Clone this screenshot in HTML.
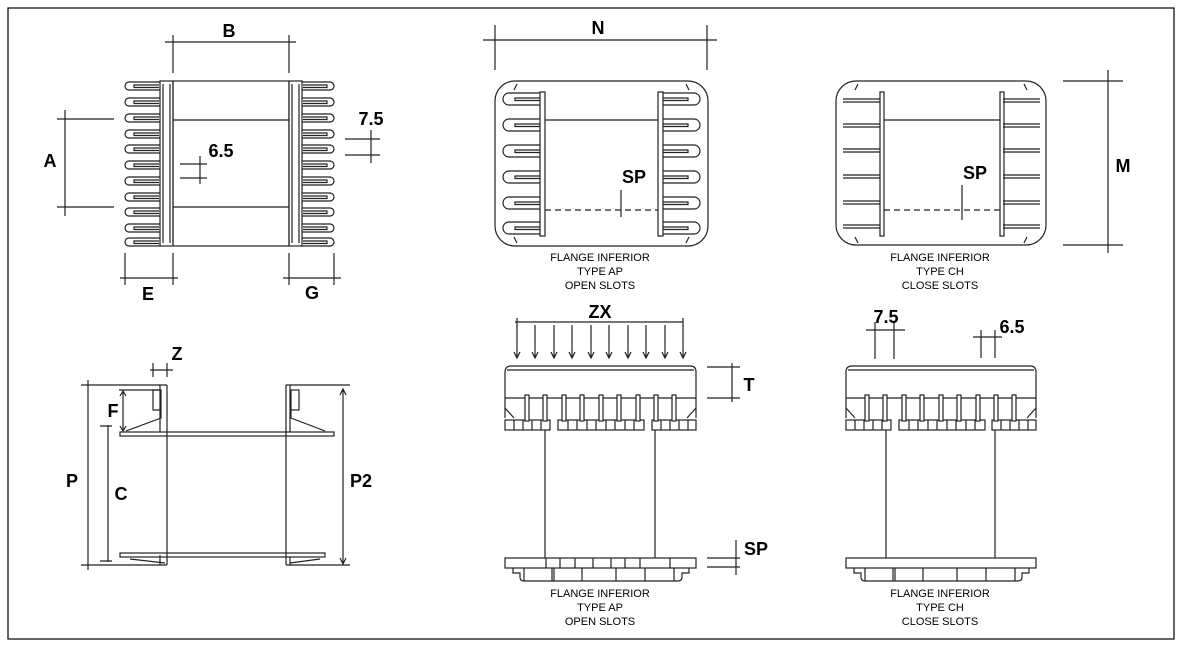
<!DOCTYPE html>
<html><head><meta charset="utf-8"><style>
html,body{margin:0;padding:0;background:#fff;}
svg{display:block;}
text{font-family:"Liberation Sans",sans-serif;fill:#000;}
.l{font-size:18px;font-weight:bold;}
.s{font-size:11px;}
g,path,rect{stroke-width:1.2;}
</style></head><body>
<svg width="1183" height="652" viewBox="0 0 1183 652" xmlns="http://www.w3.org/2000/svg">
<defs>
<g id="finL" fill="none" stroke="#222"><path d="M160,0 H129 a4,4 0 0 0 0,8 H160"/><path d="M159,3 H134 V5.5 H159"/></g>
<g id="finR" fill="none" stroke="#222"><path d="M302,0 H330 a4,4 0 0 1 0,8 H302"/><path d="M303,3 H327 V5.5 H303"/></g>
<g id="sL" fill="none" stroke="#222"><path d="M540,0 H509 a6,6 0 0 0 0,12 H540"/><path d="M540,5 H515 V7.5 H540"/></g>
<g id="sR" fill="none" stroke="#222"><path d="M663,0 H694 a6,6 0 0 1 0,12 H663"/><path d="M663,5 H688 V7.5 H663"/></g>
<g id="cL" fill="none" stroke="#222"><path d="M843,0 H880 M843,3 H880"/></g>
<g id="cR" fill="none" stroke="#222"><path d="M1003,0 H1040 M1003,3 H1040"/></g>
<rect id="pin" x="-2" y="395" width="4" height="26" fill="#fff" stroke="#222"/>
<path id="arr" d="M0,325 V357 M-3,352 L0,358 L3,352" fill="none" stroke="#222"/>
</defs>
<rect x="8" y="8" width="1166" height="631" fill="none" stroke="#000" stroke-width="2"/>

<!-- TOP LEFT -->
<g stroke="#222" fill="none">
<path d="M165,42 H296 M173,35 V73 M289,35 V73"/>
<rect x="173" y="81" width="116" height="165"/>
<path d="M173,120 H289 M173,207 H289"/>
<rect x="160" y="81" width="13" height="165"/><path d="M163,84 V243 M170,84 V243"/>
<rect x="289" y="81" width="13" height="165"/><path d="M292,84 V243 M299,84 V243"/>
<path d="M57,119 H114 M57,207 H114 M65,110 V216"/>
<path d="M180,164 H207 M180,178 H207 M200,156 V184"/>
<path d="M345,139 H380 M345,155 H380 M371,130 V163"/>
<path d="M125,253 V285 M173,253 V285 M120,278 H178"/>
<path d="M289,253 V285 M334,253 V285 M283,278 H341"/>
</g>
<use href="#finL" y="82"/><use href="#finL" y="98"/><use href="#finL" y="114"/><use href="#finL" y="130"/><use href="#finL" y="145"/><use href="#finL" y="161"/><use href="#finL" y="177"/><use href="#finL" y="193"/><use href="#finL" y="208"/><use href="#finL" y="224"/><use href="#finL" y="238"/>
<use href="#finR" y="82"/><use href="#finR" y="98"/><use href="#finR" y="114"/><use href="#finR" y="130"/><use href="#finR" y="145"/><use href="#finR" y="161"/><use href="#finR" y="177"/><use href="#finR" y="193"/><use href="#finR" y="208"/><use href="#finR" y="224"/><use href="#finR" y="238"/>
<text class="l" x="229" y="37" text-anchor="middle">B</text>
<text class="l" x="50" y="167" text-anchor="middle">A</text>
<text class="l" x="221" y="157" text-anchor="middle">6.5</text>
<text class="l" x="371" y="125" text-anchor="middle">7.5</text>
<text class="l" x="148" y="300" text-anchor="middle">E</text>
<text class="l" x="312" y="299" text-anchor="middle">G</text>

<!-- BOTTOM LEFT -->
<g stroke="#222" fill="none">
<path d="M150,370 H173 M153,363 V377 M167,363 V377"/>
<path d="M81,385 H167 M286,385 H350 M81,565 H167 M286,565 H350"/>
<path d="M88,380 V570"/>
<path d="M160,385 V432 M167,385 V565 M160,555 V565 M286,385 V565 M290,385 V432 M290,557 V565"/>
<rect x="120" y="432" width="214" height="4"/>
<rect x="120" y="553" width="205" height="4"/>
<rect x="153" y="390" width="8" height="20"/><rect x="291" y="390" width="8" height="20"/>
<path d="M161,410 V418 L126,431 M291,410 V418 L325,431"/>
<path d="M130,559 L165,563 M320,559 L290,563"/>
<path d="M108,425 V562 M100,426 H112 M100,561 H112"/>
<path d="M123,392 V430 M120,396 L123,391 L126,396 M120,426 L123,431 L126,426 M119,390 H160"/>
<path d="M343,390 V563 M340,395 L343,389 L346,395 M340,558 L343,564 L346,558"/>
</g>
<text class="l" x="177" y="360" text-anchor="middle">Z</text>
<text class="l" x="113" y="417" text-anchor="middle">F</text>
<text class="l" x="72" y="487" text-anchor="middle">P</text>
<text class="l" x="121" y="500" text-anchor="middle">C</text>
<text class="l" x="361" y="487" text-anchor="middle">P2</text>

<!-- TOP MIDDLE -->
<g stroke="#222" fill="none">
<path d="M483,40 H717 M495,25 V70 M707,25 V70"/>
<rect x="495" y="81" width="213" height="165" rx="20"/>
<rect x="540" y="92" width="5" height="144"/><rect x="658" y="92" width="5" height="144"/>
<path d="M545,120 H658"/><path d="M545,210 H658" stroke-dasharray="6,4"/>
<path d="M621,190 V217"/>
<path d="M517,84 L514,90 M686,84 L689,90 M517,243 L514,237 M686,243 L689,237"/>
</g>
<use href="#sL" y="93"/><use href="#sL" y="119"/><use href="#sL" y="145"/><use href="#sL" y="171"/><use href="#sL" y="197"/><use href="#sL" y="222"/>
<use href="#sR" y="93"/><use href="#sR" y="119"/><use href="#sR" y="145"/><use href="#sR" y="171"/><use href="#sR" y="197"/><use href="#sR" y="222"/>
<text class="l" x="598" y="34" text-anchor="middle">N</text>
<text class="l" x="634" y="183" text-anchor="middle">SP</text>
<text class="s" x="600" y="261" text-anchor="middle">FLANGE INFERIOR</text>
<text class="s" x="600" y="275" text-anchor="middle">TYPE AP</text>
<text class="s" x="600" y="289" text-anchor="middle">OPEN SLOTS</text>

<!-- TOP RIGHT -->
<g stroke="#222" fill="none">
<rect x="836" y="81" width="210" height="164" rx="20"/>
<rect x="880" y="92" width="4" height="144"/><rect x="1000" y="92" width="4" height="144"/>
<path d="M884,120 H1000"/><path d="M884,210 H1000" stroke-dasharray="6,4"/>
<path d="M962,185 V220"/>
<path d="M858,84 L855,90 M1024,84 L1027,90 M858,243 L855,237 M1024,243 L1027,237"/>
<path d="M1063,81 H1123 M1063,245 H1123 M1108,70 V253"/>
</g>
<use href="#cL" y="99"/><use href="#cL" y="124"/><use href="#cL" y="149"/><use href="#cL" y="175"/><use href="#cL" y="201"/><use href="#cL" y="225"/>
<use href="#cR" y="99"/><use href="#cR" y="124"/><use href="#cR" y="149"/><use href="#cR" y="175"/><use href="#cR" y="201"/><use href="#cR" y="225"/>
<text class="l" x="975" y="179" text-anchor="middle">SP</text>
<text class="l" x="1123" y="172" text-anchor="middle">M</text>
<text class="s" x="940" y="261" text-anchor="middle">FLANGE INFERIOR</text>
<text class="s" x="940" y="275" text-anchor="middle">TYPE CH</text>
<text class="s" x="940" y="289" text-anchor="middle">CLOSE SLOTS</text>

<!-- BOTTOM MIDDLE -->
<g stroke="#222" fill="none">
<path d="M515,322 H683 M517,318 V326 M683,318 V326"/>
<path d="M505,418 V372 Q505,366 511,366 H690 Q696,366 696,372 V418 M505,408 L514,418 M696,408 L687,418"/>
<path d="M507,370 H694 M505,398 H696"/>
<path d="M707,367 H740 M707,398 H740 M732,363 V402"/>
<path d="M707,558 H740 M707,567 H740 M736,540 V575"/>
<path d="M545,430 V558 M655,430 V558"/>
<rect x="505" y="558" width="191" height="10"/>
<path d="M546,558 V568 M560,558 V568 M575,558 V568 M593,558 V568 M611,558 V568 M625,558 V568 M640,558 V568 M670,558 V568"/>
<path d="M513,568 V573 H520 V577 Q520,581 524,581 H678 Q682,581 682,577 V573 H689 V568"/>
<path d="M524,568 V581 M552,568 V581 M554,568 V581 M582,568 V581 M616,568 V581 M645,568 V581 M674,568 V581"/>
</g>
<g stroke="#222" fill="#fff">
<rect x="505" y="420" width="45" height="10"/><rect x="558" y="420" width="86" height="10"/><rect x="652" y="420" width="44" height="10"/>
<path d="M514,420 V430 M523,420 V430 M532,420 V430 M541,420 V430 M568,420 V430 M577,420 V430 M587,420 V430 M596,420 V430 M606,420 V430 M615,420 V430 M625,420 V430 M634,420 V430 M661,420 V430 M670,420 V430 M679,420 V430 M688,420 V430"/>
</g>
<use href="#pin" x="527"/><use href="#pin" x="545"/><use href="#pin" x="564"/><use href="#pin" x="582"/><use href="#pin" x="601"/><use href="#pin" x="619"/><use href="#pin" x="638"/><use href="#pin" x="656"/><use href="#pin" x="674"/>
<use href="#arr" x="517"/><use href="#arr" x="535"/><use href="#arr" x="554"/><use href="#arr" x="572"/><use href="#arr" x="591"/><use href="#arr" x="609"/><use href="#arr" x="628"/><use href="#arr" x="646"/><use href="#arr" x="665"/><use href="#arr" x="683"/>
<text class="l" x="600" y="318" text-anchor="middle">ZX</text>
<text class="l" x="749" y="391" text-anchor="middle">T</text>
<text class="l" x="756" y="555" text-anchor="middle">SP</text>
<text class="s" x="600" y="597" text-anchor="middle">FLANGE INFERIOR</text>
<text class="s" x="600" y="611" text-anchor="middle">TYPE AP</text>
<text class="s" x="600" y="625" text-anchor="middle">OPEN SLOTS</text>

<!-- BOTTOM RIGHT -->
<g stroke="#222" fill="none">
<path d="M866,330 H905 M875,322 V359 M894,322 V359"/>
<path d="M973,337 H1002 M981,330 V358 M995,330 V358"/>
<path d="M846,418 V372 Q846,366 852,366 H1030 Q1036,366 1036,372 V418 M846,408 L855,418 M1036,408 L1027,418"/>
<path d="M848,370 H1034 M846,398 H1036"/>
<path d="M886,430 V558 M995,430 V558"/>
<rect x="846" y="558" width="190" height="10"/>
<path d="M854,568 V573 H861 V577 Q861,581 865,581 H1018 Q1022,581 1022,577 V573 H1029 V568"/>
<path d="M865,568 V581 M893,568 V581 M895,568 V581 M923,568 V581 M957,568 V581 M986,568 V581 M1015,568 V581"/>
</g>
<g stroke="#222" fill="#fff">
<rect x="846" y="420" width="45" height="10"/><rect x="899" y="420" width="86" height="10"/><rect x="992" y="420" width="44" height="10"/>
<path d="M855,420 V430 M864,420 V430 M873,420 V430 M882,420 V430 M909,420 V430 M918,420 V430 M928,420 V430 M937,420 V430 M947,420 V430 M956,420 V430 M966,420 V430 M975,420 V430 M1001,420 V430 M1010,420 V430 M1019,420 V430 M1028,420 V430"/>
</g>
<use href="#pin" x="867"/><use href="#pin" x="885"/><use href="#pin" x="904"/><use href="#pin" x="922"/><use href="#pin" x="941"/><use href="#pin" x="959"/><use href="#pin" x="978"/><use href="#pin" x="996"/><use href="#pin" x="1014"/>
<text class="l" x="886" y="323" text-anchor="middle">7.5</text>
<text class="l" x="1012" y="333" text-anchor="middle">6.5</text>
<text class="s" x="940" y="597" text-anchor="middle">FLANGE INFERIOR</text>
<text class="s" x="940" y="611" text-anchor="middle">TYPE CH</text>
<text class="s" x="940" y="625" text-anchor="middle">CLOSE SLOTS</text>
</svg>
</body></html>
